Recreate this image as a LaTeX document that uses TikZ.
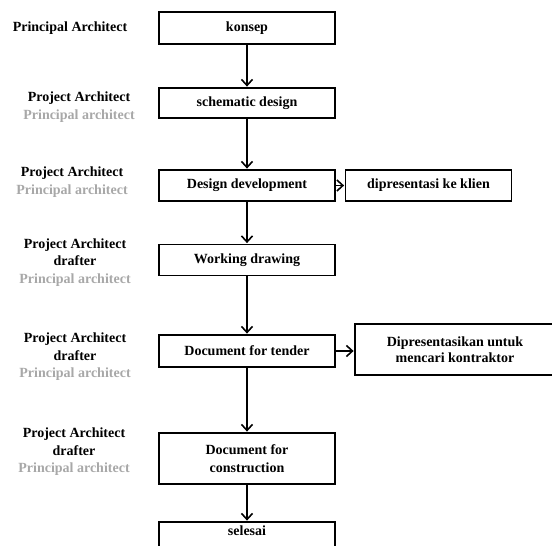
\documentclass[tikz,border=0pt]{standalone}
\usepackage{fontspec}
\setmainfont{Liberation Serif}
\usetikzlibrary{arrows.meta}
\definecolor{rolegray}{HTML}{A8A8A8}
\tikzset{
  stage/.style={draw=black, line width=1.8pt, minimum width=176pt, minimum height=31pt,
    inner sep=2pt, align=center, font=\fontsize{14}{17.5}\selectfont\bfseries},
  note/.style={stage, minimum width=166pt},
  role/.style={align=center, inner sep=0pt, font=\fontsize{14}{17.5}\selectfont\bfseries},
  flow/.style={line width=1.4pt, -{Straight Barb[length=6pt,width=11pt,line width=1.6pt]}, shorten >=0.5pt},
}
\newcommand{\second}[1]{\textcolor{rolegray}{#1}}
\begin{document}
\begin{tikzpicture}[x=1pt,y=-1pt]
  \clip (0,0) rectangle (552,546);
  \fill[white] (0,0) rectangle (552,546);

  % main sequence of stages
  \node[stage, minimum height=32pt] (konsep) at (247,28) {konsep};
  \node[stage, minimum height=30pt] (schem) at (247,103) {schematic design};
  \node[stage] (dd) at (247,185.5) {Design development};
  \node[stage] (wd) at (247,260) {Working drawing};
  \node[stage, minimum height=32pt] (tender) at (247,351) {Document for tender};
  \node[stage, minimum height=51pt] (constr) at (247,458.5) {Document for\\construction};
  \node[stage, minimum height=32pt, text depth=14pt] (done) at (247,538) {selesai};

  % side outcomes
  \node[note] (klien) at (428.5,185.5) {dipresentasi ke klien};
  \node[stage, minimum width=200pt, minimum height=51pt] (kontr) at (455,349.5)
    {Dipresentasikan untuk\\[-1pt]mencari kontraktor};

  % connectors
  \draw[flow] (konsep) -- (schem);
  \draw[flow] (schem) -- (dd);
  \draw[flow] (dd) -- (wd);
  \draw[flow] (wd) -- (tender);
  \draw[flow] (tender) -- (constr);
  \draw[flow] (constr) -- (done);
  \draw[flow] (dd) -- (klien);
  \draw[flow] (tender.east) -- (tender.east -| kontr.west);

  % people responsible for each stage
  \node[role] (r1) at (70,28) {Principal Architect};
  \node[role] (r2) at (79,107) {Project Architect\\\second{Principal architect}};
  \node[role] (r3) at (72,182) {Project Architect\\\second{Principal architect}};
  \node[role] (r4) at (75,262.5) {Project Architect\\drafter\\\second{Principal architect}};
  \node[role] (r5) at (75,357) {Project Architect\\drafter\\\second{Principal architect}};
  \node[role] (r6) at (74,452) {Project Architect\\drafter\\\second{Principal architect}};
\end{tikzpicture}
\end{document}
